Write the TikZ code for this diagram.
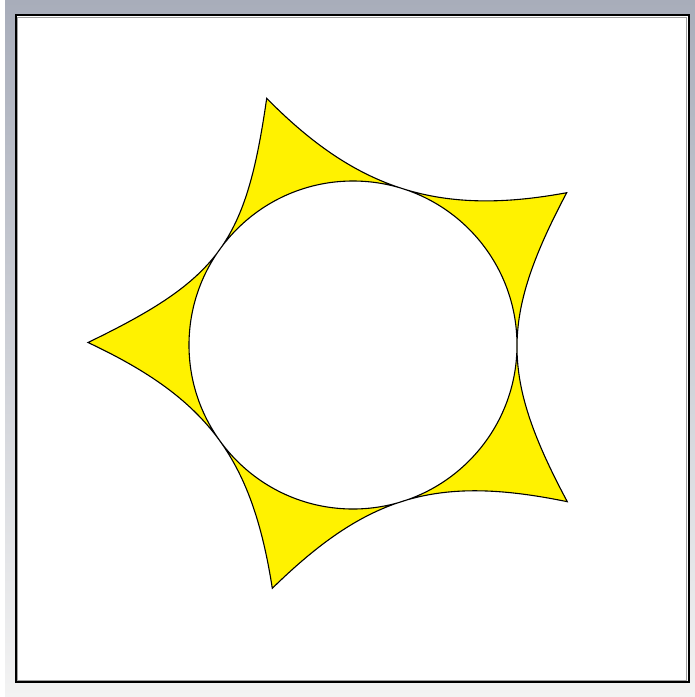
\documentclass[tikz,border=0pt]{standalone}
\usetikzlibrary{calc}
\definecolor{frametop}{HTML}{A8ADBA}
\definecolor{framebot}{HTML}{F3F3F3}
\definecolor{innergray}{HTML}{A0A0A0}
\begin{document}
\begin{tikzpicture}[x=1pt,y=-1pt,
  starshape/.style={fill=yellow, draw=black, line width=1.1pt, even odd rule, line join=miter},
  outerframe/.style={draw=black, line width=2pt, fill=white},
  innerframe/.style={draw=innergray, line width=0.8pt}
]
\useasboundingbox (0,0) rectangle (695,697);
\fill[white] (0,0) rectangle (695,697);
\shade[top color=frametop, bottom color=framebot] (5,0) rectangle (695,697);
\path[outerframe] (15.5,15) rectangle (688.5,682);
\path[innerframe] (17.5,17) rectangle (686.5,680);
% tips of the star and centre of the circle
\coordinate (L)  at (88,342.5);
\coordinate (Bo) at (272.3,588.3);
\coordinate (RB) at (567.3,501.7);
\coordinate (RT) at (566.7,192.7);
\coordinate (T)  at (266.7,98.3);
\coordinate (O)  at (353,345);
\path[starshape]
  (L)  .. controls ($(L)!0.430!28:(Bo)$) and ($(Bo)!0.430!-28:(L)$) .. (Bo)
       .. controls ($(Bo)!0.433!28:(RB)$) and ($(RB)!0.433!-28:(Bo)$) .. (RB)
       .. controls ($(RB)!0.4596!28:(RT)$) and ($(RT)!0.4596!-28:(RB)$) .. (RT)
       .. controls ($(RT)!0.410!28:(T)$) and ($(T)!0.410!-28:(RT)$) .. (T)
       .. controls ($(T)!0.4825!28:(L)$) and ($(L)!0.4825!-28:(T)$) .. (L)
  -- cycle
  (O) circle[radius=164];
\end{tikzpicture}
\end{document}
